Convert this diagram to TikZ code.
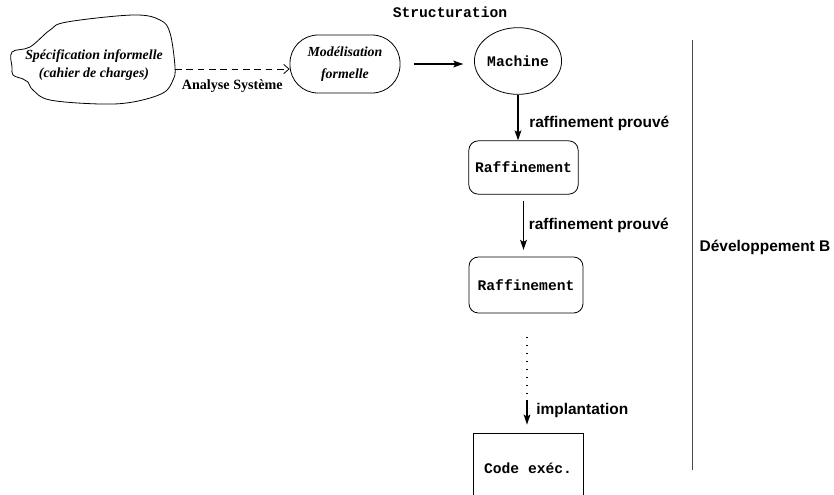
\documentclass[tikz,border=0pt]{standalone}
\usepackage{fontspec}
\setmainfont{Liberation Serif}
\setsansfont{Liberation Sans}
\setmonofont{Liberation Mono}
\usetikzlibrary{shapes.geometric,arrows.meta}

\begin{document}
\begin{tikzpicture}[x=0.75pt,y=-0.75pt,
  fleche/.style={line width=1.2pt,-{Stealth[length=7.5pt,width=5pt,inset=1.5pt]}},
  trait/.style={line width=0.6pt},
  boite/.style={draw,trait,inner sep=0pt,font=\ttfamily\bfseries\fontsize{11}{13}\selectfont},
  ital/.style={font=\rmfamily\bfseries\itshape\fontsize{10.4}{13.5}\selectfont,align=center,inner sep=0pt},
  etiq/.style={font=\sffamily\bfseries\fontsize{11.6}{14}\selectfont,anchor=west}]
\clip (0,0) rectangle (834,494);

% le cahier des charges (nuage)
\draw[trait] plot[smooth cycle,tension=0.6] coordinates {(12,52) (30,47) (50,30) (67,22)
  (133,15) (160,20) (170,33) (175,67) (173,80) (163,93) (133,102) (100,104) (50,100)
  (33,90) (28,82) (23,79) (13,75) (12,67)};
\node[ital,minimum width=121.5pt] (spec) at (94,65) {Spécification informelle\\(cahier de charges)};
\coordinate (sortie) at (175,69);

\node[boite,font=\rmfamily\bfseries\itshape\fontsize{10.4}{17}\selectfont,align=center,
  rounded corners=21pt,minimum width=82.5pt,minimum height=43.5pt] (modl) at (345,64) {Modélisation\\formelle};
\node[boite,ellipse,minimum width=60pt,minimum height=50pt] (mach) at (518,61) {Machine};
\node[font=\ttfamily\bfseries\fontsize{11}{13}\selectfont] (struct) at (450,12) {Structuration};

\node[boite,rounded corners=7pt,minimum width=82pt,minimum height=40pt] (raf1) at (523.5,167.5) {Raffinement};
\node[boite,rounded corners=7pt,minimum width=85.5pt,minimum height=42pt] (raf2) at (526,285) {Raffinement};
\coordinate (pts) at (527,396);
\node[boite,minimum width=82.5pt,minimum height=52.5pt] (code) at (528,468) {Code exéc.};

% fleches
\draw[trait,dash pattern=on 5pt off 3.5pt,-{Straight Barb[length=4pt,width=7pt]}] (sortie) -- (sortie -| modl.west)
  node[midway,below=8pt,font=\rmfamily\bfseries\fontsize{10.6}{12}\selectfont,inner sep=0pt] {Analyse Système};
\draw[fleche,shorten <=10pt,shorten >=8pt] (modl.east) -- (modl.east -| mach.west);
\draw[fleche] (mach.south) -- (mach.south |- raf1.north)
  node[etiq,pos=0.63,xshift=4.5pt] {raffinement prouvé};
\draw[fleche,shorten <=4.5pt,shorten >=5pt] (raf1.south) -- (raf1.south |- raf2.north)
  node[etiq,midway] {raffinement prouvé};
\draw[line width=0.8pt,dash pattern=on 0.8pt off 5.2pt,shorten <=18pt] (raf2.south -| pts) -- (pts);
\draw[fleche,shorten <=3pt,shorten >=6pt] (pts) -- (pts |- code.north)
  node[etiq,pos=0.4,xshift=3pt] {implantation};

% developpement B
\draw[trait,gray!60!black] (692,40) -- (692,470);
\node[etiq,anchor=center] (dev) at (765,247) {Développement B};
\end{tikzpicture}
\end{document}
